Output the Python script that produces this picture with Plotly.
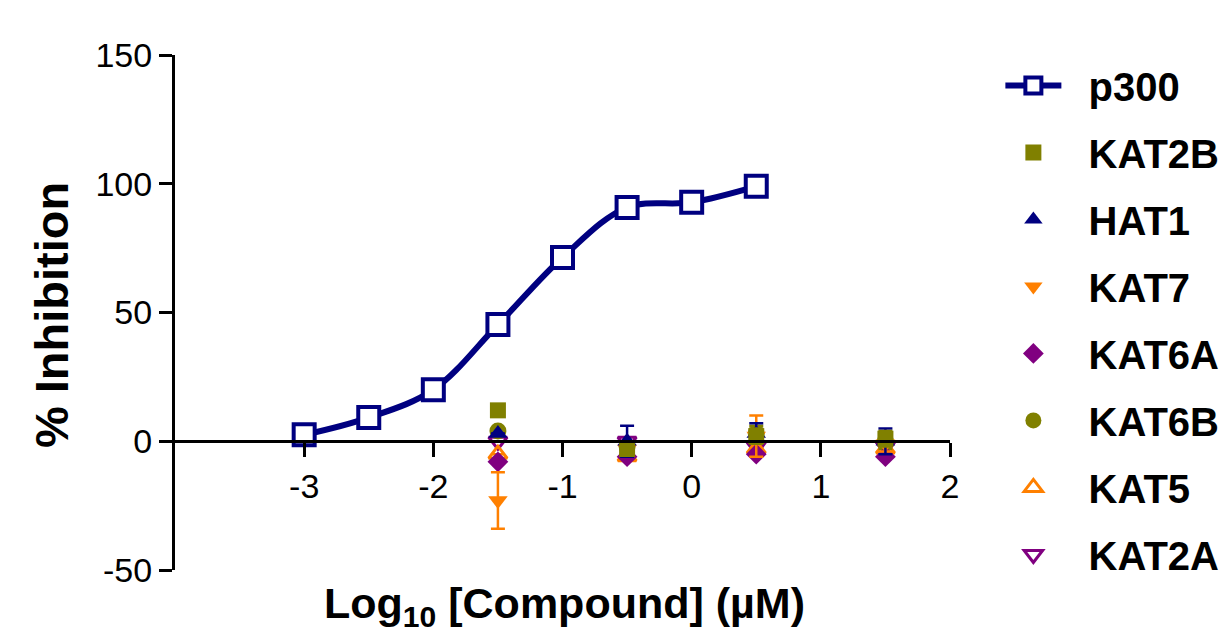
import plotly.graph_objects as go

# ---- data ----
p300_x = [-3, -2.5, -2, -1.5, -1, -0.5, 0, 0.5]
p300_y = [2.5, 9.2, 20.0, 45.3, 71.4, 90.8, 92.8, 99.0]

other_x = [-1.5, -0.5, 0.5, 1.5]
kat2b_y = [12, -3, 2, 1]
kat2b_e = [0, 0, 3, 3]
hat1_y = [3, 0, 3, 0]
hat1_e = [0, 6, 4, 5]
kat7_y = [-23, -3, 2, -1]
kat7_e = [11, 0, 8, 3]
kat6a_y = [-8, -6, -5, -6]
kat6a_e = [0, 0, 0, 0]
kat6b_y = [4, -2, 3, 0]
kat6b_e = [0, 0, 3, 3]
kat5_y = [-5, -6, -3, -3]
kat5_e = [0, 0, 0, 0]
kat2a_y = [0, 0, -2, -2]
kat2a_e = [0, 0, 0, 0]

x_ticks = [-3, -2, -1, 0, 1, 2]
y_ticks = [-50, 0, 50, 100, 150]

NAVY = "#000080"
OLIVE = "#808000"
ORANGE = "#FF8000"
PURPLE = "#800080"
PAD = "\u00a0\u00a0"

series = [
    # name, y, err, color, symbol, legend rank, size
    ("KAT2B", kat2b_y, kat2b_e, OLIVE, "square", 2, 16),
    ("HAT1", hat1_y, hat1_e, NAVY, "triangle-up", 3, 17),
    ("KAT7", kat7_y, kat7_e, ORANGE, "triangle-down", 4, 17),
    ("KAT6A", kat6a_y, kat6a_e, PURPLE, "diamond", 5, 16),
    ("KAT6B", kat6b_y, kat6b_e, OLIVE, "circle", 6, 17),
    ("KAT5", kat5_y, kat5_e, ORANGE, "triangle-up-open", 7, 16),
    ("KAT2A", kat2a_y, kat2a_e, PURPLE, "triangle-down-open", 8, 16),
]

fig = go.Figure()

# draw in reverse order so earlier datasets sit on top (as in the reference)
for name, ys, es, col, sym, rank, size in reversed(series):
    is_open = sym.endswith("open")
    fig.add_trace(go.Scatter(
        x=other_x, y=ys, mode="markers", name=PAD + name,
        legendrank=rank, legendgroup=name,
        marker=dict(symbol=sym, size=size, color=col,
                    line=dict(color=col, width=3 if is_open else 0)),
        error_y=dict(type="data", array=es, visible=True, color=col,
                     thickness=2.5, width=7),
    ))

fig.add_trace(go.Scatter(
    x=p300_x, y=p300_y, mode="lines+markers", name=PAD + "p300",
    legendrank=1, legendgroup="p300",
    line=dict(color=NAVY, width=6, shape="spline", smoothing=1.0),
    marker=dict(symbol="square", size=21, color="white",
                line=dict(color=NAVY, width=4)),
))

# page body has an 8px margin: shift everything by that amount
fig.update_layout(
    width=1222, height=632,
    margin=dict(l=167, r=280, t=47, b=70, autoexpand=False),
    paper_bgcolor="white", plot_bgcolor="white",
    font=dict(family="Liberation Sans, Arial, sans-serif", color="black", size=34),
    showlegend=True,
    legend=dict(
        x=1.065, y=1.004, xanchor="left", yanchor="top",
        font=dict(size=40, family="Liberation Sans, Arial, sans-serif", color="black", weight="bold"),
        tracegroupgap=12, itemwidth=56, bgcolor="rgba(0,0,0,0)",
        maxheight=630,
    ),
    xaxis=dict(
        range=[-4, 2], tickvals=x_ticks, ticktext=[str(v) for v in x_ticks],
        anchor="free", position=0.25,
        showline=True, linecolor="black", linewidth=3,
        ticks="outside", ticklen=14, tickwidth=3, tickcolor="black",
        showgrid=False, zeroline=False,
        tickfont=dict(size=34),
    ),
    yaxis=dict(
        range=[-50, 150], tickvals=y_ticks, ticktext=[str(v) for v in y_ticks],
        showline=True, linecolor="black", linewidth=3,
        ticks="outside", ticklen=13, tickwidth=3, tickcolor="black",
        showgrid=False, zeroline=False,
        tickfont=dict(size=34),
    ),
    annotations=[
        dict(text="<b>Log<sub>10</sub> [Compound] (µM)</b>", xref="paper", yref="paper",
             x=0.503, y=-0.07, xanchor="center", yanchor="middle", showarrow=False,
             font=dict(size=43)),
        dict(text="<b>% Inhibition</b>", xref="paper", yref="paper",
             x=-0.16, y=0.495, xanchor="center", yanchor="middle", showarrow=False,
             textangle=-90, font=dict(size=47)),
    ],
)

fig.write_html("out.html")
